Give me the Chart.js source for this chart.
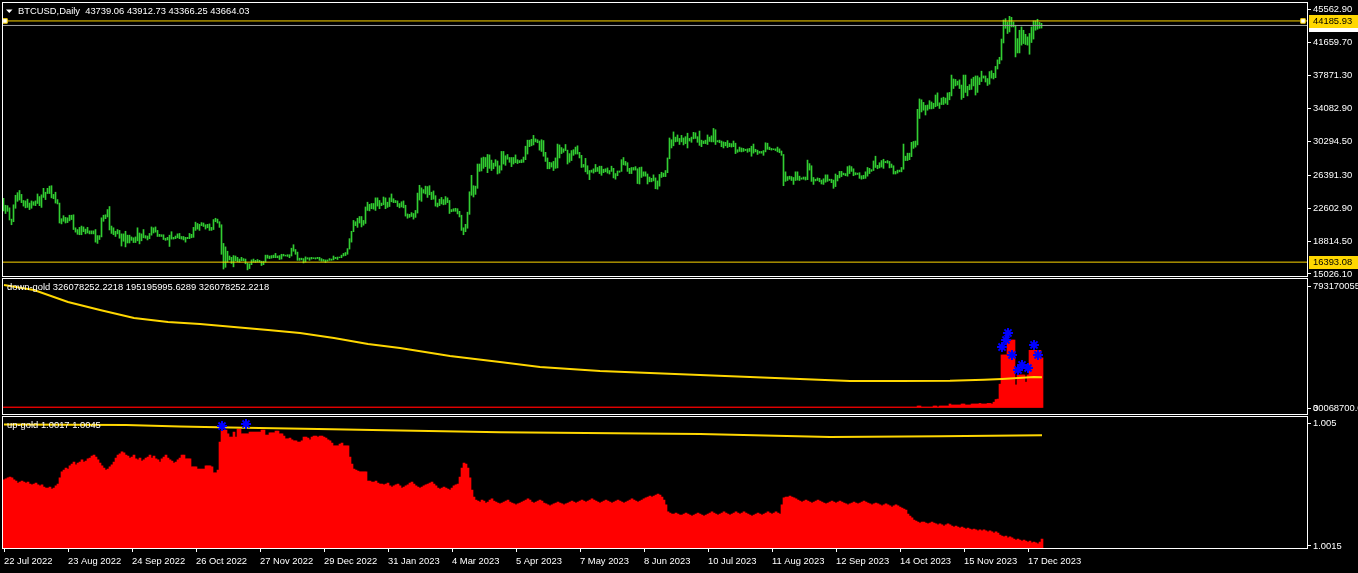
<!DOCTYPE html>
<html>
<head>
<meta charset="utf-8">
<script src="https://cdn.jsdelivr.net/npm/chart.js@4.4.1/dist/chart.umd.min.js"></script>
<style>
  html, body { margin: 0; padding: 0; background: #000; overflow: hidden; }
  canvas { position: absolute; left: 0; }
  #priceChart { top: 0; }
  #downChart { top: 277px; }
  #upChart { top: 415px; }
</style>
</head>
<body>
<canvas id="priceChart" width="1358" height="277"></canvas>
<canvas id="downChart" width="1358" height="138"></canvas>
<canvas id="upChart" width="1358" height="158"></canvas>
<script>
// ---- data (one bar per day, first bar = 22 Jul 2022, 1 Jan 2023 missing in the feed) ----
const symbolTitle = 'BTCUSD,Daily';
const lastOHLC = [43739.06, 43912.73, 43366.25, 43664.03];
const tickStep = 32; // bars between date labels
const dateTicks = ['22 Jul 2022', '23 Aug 2022', '24 Sep 2022', '26 Oct 2022', '27 Nov 2022', '29 Dec 2022',
  '31 Jan 2023', '4 Mar 2023', '5 Apr 2023', '7 May 2023', '8 Jun 2023', '10 Jul 2023', '11 Aug 2023',
  '12 Sep 2023', '14 Oct 2023', '15 Nov 2023', '17 Dec 2023'];
const priceTicks = [15026.10, 18814.50, 22602.90, 26391.30, 30294.50, 34082.90, 37871.30, 41659.70, 45562.90];
const goldLevels = [44185.93, 16393.08];
const bidPrice = 43664.03;

const highs = [
  // Jul 2022
  23750,22950,22900,22650,21350,23000,24100,24400,24650,24200,
  // Aug
  23500,23450,23650,23200,23450,23350,23450,24250,23950,24150,24900,24450,24900,25150,25200,24200,24450,23600,23200,21400,
  21750,21550,21500,21800,21800,21850,20350,20150,20400,20550,20450,
  // Sep
  20200,20400,20000,20000,20000,20150,19450,19450,21500,21800,21850,22450,22800,20550,20350,19950,20150,20050,19650,19650,
  19950,19500,19500,19300,19200,19300,20350,19750,19650,20150,
  // Oct
  19450,19400,19700,20450,20350,20450,20050,19600,19550,19550,19150,19250,19500,19900,19250,19400,19650,19700,19350,19350,
  19250,19250,19700,19600,20400,21000,20850,20750,20950,20900,20700,
  // Nov
  20750,20800,20400,21300,21450,21350,21050,20700,18550,18150,17650,17100,16950,17150,17100,16950,16750,16950,16800,16750,
  16300,16200,16650,16750,16600,16700,16600,16500,16500,17200,
  // Dec
  17200,17100,17150,17200,17400,17100,17150,17300,17300,17200,17250,17250,18000,18400,17850,17550,16850,16850,16800,17000,
  16900,16900,16950,16900,16900,16950,16950,16800,16700,16650,16650,
  // Jan 2023 (from the 2nd)
  16800,16750,17100,16950,16980,16980,17200,17400,17500,17950,19100,19950,21200,21050,21450,21650,21650,21200,22750,23300,
  23050,23150,23150,23800,23800,23500,23200,23900,23800,23300,
  // Feb
  23800,24250,23700,23500,23450,23150,23350,23450,22950,21950,21900,22100,22000,22350,24350,25250,24950,24750,25150,25100,
  25200,24450,24600,24050,23200,23650,23850,23600,
  // Mar
  23950,23800,23500,22450,22550,22600,22550,22250,21800,20350,20750,22150,24500,26400,25200,25150,27700,27700,28400,28500,
  28450,28800,28750,28150,27800,28200,28050,27500,29150,29150,28650,
  // Apr
  28800,28450,28450,28450,28750,28200,28100,28200,28500,29750,30450,30450,30550,31000,30600,30500,30350,30500,30400,29050,
  28400,27900,27850,28000,28400,30000,29900,29600,29450,29950,
  // May
  29300,28900,29250,29350,29650,29800,29050,28700,27650,28350,27500,26950,27000,27150,27650,27300,27450,27450,27100,27150,
  27250,26950,27450,27200,26600,26900,26900,28200,28450,28000,27850,
  // Jun
  27200,27300,27300,27400,27150,27300,27350,26800,26800,26550,26200,26050,26450,26100,25750,26500,26750,26650,26950,28400,
  30700,30500,31400,30800,31050,30650,31000,30700,30850,31250,
  // Jul
  30650,30800,31350,31300,30850,31500,30450,30350,30450,31050,30800,30950,31800,31650,30400,30450,30350,30250,30200,30400,
  30100,30050,30350,30100,29350,29650,29550,29500,29400,29450,29500,
  // Aug
  29750,30000,29400,29300,29150,29150,29250,30150,30100,29650,29500,29450,29450,29650,29450,29200,28800,26800,26250,26300,
  26250,26150,26800,26800,26300,26100,26200,26200,28150,27750,27500,
  // Sep
  26150,25950,26100,26050,25850,26000,26450,26450,25950,25950,25850,26550,26400,26850,26850,26650,26600,27400,27500,27400,
  27150,26700,26650,26700,26350,26400,26800,27300,27200,27050,
  // Oct
  28050,28600,27550,27850,28100,28250,28000,28100,28000,27700,27500,26850,27000,27000,27300,30000,28600,28950,28950,30200,
  30300,30350,34000,35200,35100,34800,34450,34500,35000,34850,34700,
  // Nov
  35650,35900,34750,35300,35400,35300,35900,35950,37950,37500,37450,37250,37400,36800,37950,37950,36650,36850,37500,37700,
  37850,37850,37650,38400,37850,37850,37550,38350,38450,38150,
  // Dec (1-24)
  38950,39700,40000,42100,44300,44450,44070,44720,44600,44070,43690,42150,43110,43500,43110,42650,42350,42740,43500,44190,
  44190,44380,44030,43913
];
const lows = [
  // Jul 2022
  22300,22000,22250,21250,20700,21050,22600,23400,23550,23250,
  // Aug
  22850,22650,22700,22450,22600,22950,22900,23150,22900,22700,23850,23600,24300,24300,23800,23700,23200,23100,20900,20800,
  21100,20900,20950,21150,21300,20150,19850,19600,19550,19550,19900,
  // Sep
  19650,19750,19650,19650,19650,18700,18550,19000,19300,21100,21400,21600,20100,19700,19550,19350,19650,19150,18250,18800,
  18150,18600,18600,18900,18650,18650,18850,18500,18850,19200,
  // Oct
  19150,18950,19100,19500,19750,19850,19350,19350,19350,19000,18900,18950,18200,19050,19050,19100,19200,19100,19050,18950,
  18700,19100,19100,19200,19250,20050,20200,20050,20600,20500,20200,
  // Nov
  20350,20050,20050,20150,21050,20900,20400,17300,15600,15800,16400,16650,16250,15850,16550,16450,16400,16550,16550,16200,
  15500,15650,16100,16400,16350,16400,16400,16000,16100,16400,
  // Dec
  16850,16800,16850,16900,16900,16900,16700,16750,17100,17100,17050,16900,17100,17650,17300,16600,16600,16650,16300,16400,
  16750,16600,16750,16800,16750,16800,16600,16500,16500,16350,16500,
  // Jan 2023 (from the 2nd)
  16600,16600,16650,16800,16700,16900,16900,17100,17150,17300,17900,18700,19900,20600,20400,20900,20450,20650,20850,22350,
  22300,22550,22500,22350,22850,22550,22900,23000,22550,22700,
  // Feb
  22800,23350,23250,23250,22800,22650,22750,22650,21700,21450,21550,21650,21350,21550,22050,23550,23400,24350,24250,23850,
  24150,23600,23650,22850,22750,22900,23100,23000,
  // Mar
  23050,23250,22000,22200,22250,22250,21950,21600,20050,19550,19900,20300,21900,24100,23900,24200,24900,26850,26900,27200,
  27400,26700,27200,26950,27150,27450,26550,26650,27000,27700,27550,
  // Apr
  28250,27900,27400,27700,27850,27750,27850,27850,27900,28200,28850,29700,29800,29900,30250,30150,29300,29150,28600,28000,
  27150,27150,27350,26950,27200,27250,28400,28900,29050,29250,
  // May
  27700,27900,28100,28700,28850,28850,28400,27300,27350,26800,26550,25900,26750,26650,26800,26850,26600,26400,26700,26800,
  26650,26550,26850,26100,25950,26350,26750,26850,27600,27550,26850,
  // Jun
  26600,26600,27000,27000,25450,25400,26150,26300,26300,25400,25650,25650,25750,24850,24800,25150,26150,26250,26250,26700,
  28300,29550,29800,30250,30300,29950,30250,29900,30050,29550,
  // Jul
  30350,30200,30600,30650,30200,29850,29700,30050,30050,29950,30300,30250,30250,29950,30250,30150,29700,29550,29800,29600,
  29700,29650,29700,28900,29050,29150,29100,29150,29250,29050,29150,
  // Aug
  28600,28950,29100,28800,28950,28950,28700,29100,29400,29350,29300,29350,29250,29100,29000,28700,25200,25700,25800,25950,
  25800,25350,25800,25850,25800,25950,25950,25850,25900,27000,25700,
  // Sep
  25350,25750,25800,25650,25400,25350,25600,25700,25800,25550,24900,25100,25750,26100,26250,26450,26350,26300,26600,26850,
  26350,26450,26500,26050,25950,26000,26050,26300,26600,26850,
  // Oct
  26950,27300,27150,27250,27350,27200,27850,27800,27250,27300,26550,26550,26650,26800,26800,27100,28100,28100,28200,28550,
  29500,29650,29900,32950,33700,33900,33350,33900,34050,34050,34100,
  // Nov
  34300,34400,34100,34550,34550,34700,34550,35100,35550,36400,36700,36800,36400,35150,35350,35950,35550,36250,36300,36700,
  35650,35950,36850,37200,37600,37150,36750,36900,37600,37500,
  // Dec (1-24)
  37650,38650,39250,39680,41650,43340,42740,42920,43500,43500,40040,40500,40500,41400,41580,41470,41400,40350,41700,42100,
  43120,43230,43340,43366
];

// down-gold: histogram in millions, one value per bar
const downName = 'down-gold';
const downLegend = [326078252.2218, 195195995.6289, 326078252.2218];
const downHistM = [
  6.5,6.5,6.5,6.5,6.5,6.5,6.5,6.5,6.5,6.5,6.5,6.5,6.5,6.5,6.5,6.5,6.5,6.5,6.5,6.5,6.5,6.5,6.5,6.5,6.5,
  6.5,6.5,6.5,6.5,6.5,6.5,6.5,6.5,6.5,6.5,6.5,6.5,6.5,6.5,6.5,6.5,6.5,6.5,6.5,6.5,6.5,6.5,6.5,6.5,6.5,
  6.5,6.5,6.5,6.5,6.5,6.5,6.5,6.5,6.5,6.5,6.5,6.5,6.5,6.5,6.5,6.5,6.5,6.5,6.5,6.5,6.5,6.5,6.5,6.5,6.5,
  6.5,6.5,6.5,6.5,6.5,6.5,6.5,6.5,6.5,6.5,6.5,6.5,6.5,6.5,6.5,6.5,6.5,6.5,6.5,6.5,6.5,6.5,6.5,6.5,6.5,
  6.5,6.5,6.5,6.5,6.5,6.5,6.5,6.5,6.5,6.5,6.5,6.5,6.5,6.5,6.5,6.5,6.5,6.5,6.5,6.5,6.5,6.5,6.5,6.5,6.5,
  6.5,6.5,6.5,6.5,6.5,6.5,6.5,6.5,6.5,6.5,6.5,6.5,6.5,6.5,6.5,6.5,6.5,6.5,6.5,6.5,6.5,6.5,6.5,6.5,6.5,
  6.5,6.5,6.5,6.5,6.5,6.5,6.5,6.5,6.5,6.5,6.5,6.5,6.5,6.5,6.5,6.5,6.5,6.5,6.5,6.5,6.5,6.5,6.5,6.5,6.5,
  6.5,6.5,6.5,6.5,6.5,6.5,6.5,6.5,6.5,6.5,6.5,6.5,6.5,6.5,6.5,6.5,6.5,6.5,6.5,6.5,6.5,6.5,6.5,6.5,6.5,
  6.5,6.5,6.5,6.5,6.5,6.5,6.5,6.5,6.5,6.5,6.5,6.5,6.5,6.5,6.5,6.5,6.5,6.5,6.5,6.5,6.5,6.5,6.5,6.5,6.5,
  6.5,6.5,6.5,6.5,6.5,6.5,6.5,6.5,6.5,6.5,6.5,6.5,6.5,6.5,6.5,6.5,6.5,6.5,6.5,6.5,6.5,6.5,6.5,6.5,6.5,
  6.5,6.5,6.5,6.5,6.5,6.5,6.5,6.5,6.5,6.5,6.5,6.5,6.5,6.5,6.5,6.5,6.5,6.5,6.5,6.5,6.5,6.5,6.5,6.5,6.5,
  6.5,6.5,6.5,6.5,6.5,6.5,6.5,6.5,6.5,6.5,6.5,6.5,6.5,6.5,6.5,6.5,6.5,6.5,6.5,6.5,6.5,6.5,6.5,6.5,6.5,
  6.5,6.5,6.5,6.5,6.5,6.5,6.5,6.5,6.5,6.5,6.5,6.5,6.5,6.5,6.5,6.5,6.5,6.5,6.5,6.5,6.5,6.5,6.5,6.5,6.5,
  6.5,6.5,6.5,6.5,6.5,6.5,6.5,6.5,6.5,6.5,6.5,6.5,6.5,6.5,6.5,6.5,6.5,6.5,6.5,6.5,6.5,6.5,6.5,6.5,6.5,
  6.5,6.5,6.5,6.5,6.5,6.5,6.5,6.5,6.5,6.5,6.5,6.5,6.5,6.5,6.5,6.5,6.5,6.5,6.5,6.5,6.5,6.5,6.5,6.5,6.5,
  6.5,6.5,6.5,6.5,6.5,6.5,6.5,6.5,6.5,6.5,6.5,6.5,6.5,6.5,6.5,6.5,6.5,6.5,6.5,6.5,6.5,6.5,6.5,6.5,6.5,
  6.5,6.5,6.5,6.5,6.5,6.5,6.5,6.5,6.5,6.5,6.5,6.5,6.5,6.5,6.5,6.5,6.5,6.5,6.5,6.5,6.5,6.5,6.5,6.5,6.5,
  6.5,6.5,6.5,6.5,6.5,6.5,6.5,6.5,6.5,6.5,6.5,6.5,6.5,6.5,6.5,6.5,6.5,6.5,6.5,6.5,6.5,6.5,6.5,6.5,6.5,
  6.5,6.5,6.5,6.5,6.5,6.5,6.5,13,13,6.5,
  6.5,6.5,6.5,6.5,6.5,13,13,6.5,13,13,
  13,13,13,26,19.5,19.5,19.5,19.5,19.5,26,
  26,19.5,19.5,19.5,26,26,26,26,30,26,
  26,26,30,30,26,38,55,58,155,345,
  345,345,442,442,442,442,150,215,215,215,
  215,168,215,375,375,375,375,375,375,326.08
];
const downLineIdx = [0, 15, 32, 48, 65, 82, 98, 115, 132, 148, 165, 182, 198, 223, 248, 268, 298, 323, 348, 373, 398, 423, 448, 473, 490, 499, 507, 515, 519];
const downLineM = [800, 767, 689, 637, 585, 559, 546, 527, 507, 488, 455, 416, 390, 338, 299, 267, 241, 228, 215, 202, 189, 176, 176, 177, 184, 189, 195, 202, 200];
const downArrowIdx = [499, 501, 502, 504, 507, 509, 512, 515, 517];
const downArrowM = [396, 442, 488, 345, 247, 280, 260, 410, 345];
const downTicks = [0, 0, 793170055];
const downTickLabels = ['30068700.0', '0', '793170055.0'];

// up-gold
const upName = 'up-gold';
const upLegend = [1.0017, 1.0045];
const upHist = [
  1.00338,1.00341,1.00344,1.00346,1.00344,1.00338,1.00335,1.00329,1.00332,1.00335,
  1.00332,1.00329,1.00332,1.00326,1.00324,1.00326,1.00329,1.00324,1.00321,1.00324,
  1.00318,1.00315,1.00315,1.00318,1.00312,1.00315,1.00321,1.00326,1.00344,1.00361,
  1.00366,1.00372,1.00369,1.00378,1.00383,1.00389,1.00381,1.00386,1.00389,1.00395,
  1.00389,1.00392,1.00398,1.00400,1.00406,1.00409,1.00403,1.00395,1.00386,1.00378,
  1.00372,1.00366,1.00369,1.00375,1.00381,1.00389,1.00400,1.00409,1.00412,1.00418,
  1.00415,1.00409,1.00406,1.00400,1.00403,1.00409,1.00398,1.00395,1.00400,1.00392,
  1.00395,1.00400,1.00403,1.00409,1.00400,1.00406,1.00398,1.00395,1.00389,1.00398,
  1.00403,1.00409,1.00400,1.00395,1.00392,1.00386,1.00389,1.00395,1.00400,1.00409,
  1.00409,1.00398,1.00398,1.00398,1.00375,1.00375,1.00375,1.00369,1.00369,1.00369,
  1.00369,1.00378,1.00378,1.00378,1.00375,1.00358,1.00358,1.00366,1.00446,1.00480,
  1.00480,1.00480,1.00469,1.00460,1.00460,1.00474,1.00460,1.00483,1.00483,1.00469,
  1.00469,1.00469,1.00469,1.00474,1.00474,1.00474,1.00474,1.00474,1.00474,1.00480,
  1.00480,1.00466,1.00466,1.00472,1.00472,1.00472,1.00477,1.00477,1.00469,1.00469,
  1.00463,1.00455,1.00455,1.00457,1.00452,1.00449,1.00449,1.00446,1.00446,1.00449,
  1.00460,1.00460,1.00457,1.00452,1.00460,1.00463,1.00463,1.00460,1.00463,1.00463,
  1.00460,1.00457,1.00452,1.00449,1.00443,1.00435,1.00435,1.00435,1.00440,1.00443,
  1.00435,1.00435,1.00435,1.00403,1.00383,1.00369,1.00366,1.00363,1.00361,1.00361,
  1.00361,1.00361,1.00335,1.00335,1.00332,1.00332,1.00335,1.00329,1.00326,1.00326,
  1.00324,1.00326,1.00329,1.00321,1.00318,1.00321,1.00324,1.00326,1.00321,1.00315,
  1.00318,1.00321,1.00324,1.00329,1.00332,1.00326,1.00321,1.00318,1.00315,1.00318,
  1.00321,1.00324,1.00326,1.00329,1.00332,1.00326,1.00321,1.00315,1.00312,1.00315,
  1.00318,1.00315,1.00312,1.00309,1.00315,1.00321,1.00324,1.00326,1.00346,1.00372,
  1.00386,1.00383,1.00372,1.00344,1.00309,1.00289,1.00281,1.00278,1.00275,1.00281,
  1.00278,1.00272,1.00275,1.00281,1.00284,1.00278,1.00275,1.00272,1.00270,1.00272,
  1.00275,1.00278,1.00281,1.00275,1.00272,1.00270,1.00267,1.00270,1.00272,1.00275,
  1.00278,1.00281,1.00284,1.00281,1.00275,1.00272,1.00275,1.00278,1.00281,1.00278,
  1.00272,1.00270,1.00267,1.00264,1.00267,1.00270,1.00272,1.00275,1.00272,1.00270,
  1.00267,1.00270,1.00272,1.00275,1.00278,1.00275,1.00272,1.00275,1.00278,1.00281,
  1.00278,1.00275,1.00278,1.00281,1.00284,1.00281,1.00278,1.00275,1.00272,1.00275,
  1.00278,1.00281,1.00278,1.00275,1.00272,1.00275,1.00278,1.00281,1.00278,1.00275,
  1.00272,1.00275,1.00278,1.00281,1.00284,1.00281,1.00278,1.00275,1.00278,1.00281,
  1.00284,1.00287,1.00289,1.00292,1.00289,1.00292,1.00295,1.00298,1.00295,1.00289,
  1.00281,1.00267,1.00247,1.00244,1.00241,1.00241,1.00244,1.00241,1.00238,1.00238,
  1.00241,1.00244,1.00241,1.00238,1.00235,1.00238,1.00241,1.00244,1.00241,1.00238,
  1.00235,1.00238,1.00241,1.00244,1.00247,1.00244,1.00241,1.00238,1.00241,1.00244,
  1.00247,1.00244,1.00241,1.00238,1.00241,1.00244,1.00247,1.00244,1.00241,1.00244,
  1.00247,1.00244,1.00241,1.00238,1.00235,1.00238,1.00241,1.00244,1.00241,1.00238,
  1.00241,1.00244,1.00247,1.00244,1.00241,1.00244,1.00247,1.00244,1.00241,1.00267,
  1.00287,1.00289,1.00289,1.00292,1.00289,1.00287,1.00284,1.00281,1.00278,1.00275,
  1.00278,1.00281,1.00278,1.00275,1.00272,1.00275,1.00278,1.00281,1.00278,1.00275,
  1.00272,1.00270,1.00272,1.00275,1.00278,1.00275,1.00272,1.00275,1.00278,1.00275,
  1.00272,1.00270,1.00267,1.00270,1.00272,1.00275,1.00272,1.00270,1.00272,1.00275,
  1.00278,1.00275,1.00272,1.00270,1.00267,1.00270,1.00272,1.00270,1.00267,1.00264,
  1.00267,1.00270,1.00267,1.00264,1.00261,1.00264,1.00267,1.00264,1.00261,1.00258,
  1.00255,1.00252,1.00241,1.00235,1.00230,1.00224,1.00221,1.00218,1.00215,1.00218,
  1.00218,1.00215,1.00213,1.00215,1.00218,1.00215,1.00213,1.00210,1.00213,1.00210,
  1.00207,1.00210,1.00213,1.00210,1.00207,1.00204,1.00207,1.00204,1.00201,1.00204,
  1.00201,1.00198,1.00201,1.00198,1.00196,1.00198,1.00196,1.00193,1.00196,1.00193,
  1.00196,1.00193,1.00190,1.00193,1.00190,1.00187,1.00190,1.00187,1.00181,1.00178,
  1.00176,1.00178,1.00173,1.00176,1.00173,1.00170,1.00167,1.00170,1.00167,1.00164,
  1.00167,1.00164,1.00161,1.00164,1.00159,1.00161,1.00159,1.00156,1.00161,1.00170
];
const upLineIdx = [0, 61, 88, 113, 157, 184, 248, 348, 413, 468, 519];
const upLineVal = [1.00496, 1.00494, 1.00490, 1.00487, 1.00483, 1.00480, 1.00474, 1.00469, 1.00460, 1.00462, 1.00465];
const upArrowIdx = [109, 121];
const upArrowVal = [1.004915, 1.00497];
const upTicks = [1.0015, 1.005];

// ---- look ----
const FONT = { family: '"Liberation Sans", Arial, sans-serif', size: 9.4 };
const CSS_FONT = '9.4px "Liberation Sans", Arial, sans-serif';
const GOLD = '#ffd700';
const BAR_GREEN = '#32cd32';
const ARROW_BLUE = '#0000ff';
const SPAN = 652; // bars across the chart area (2 px per bar)

const framePlugin = {
  id: 'frame',
  afterDraw(chart, args, opts) {
    const { ctx, chartArea: a } = chart;
    ctx.save();
    ctx.strokeStyle = '#fff';
    ctx.lineWidth = 1;
    ctx.strokeRect(a.left - 0.5, a.top - 0.5, a.right - a.left + 1, a.bottom - a.top + 1);
    ctx.font = CSS_FONT;
    ctx.textBaseline = 'middle';
    ctx.fillStyle = '#fff';
    const ty = a.top + 8;
    if (opts.triangle) {
      ctx.beginPath();
      ctx.moveTo(6, ty - 1.5); ctx.lineTo(12.5, ty - 1.5); ctx.lineTo(9.25, ty + 2);
      ctx.closePath(); ctx.fill();
    }
    if (opts.label) ctx.fillText(opts.label, opts.labelX, ty);
    ctx.restore();
  }
};

const tagPlugin = {
  id: 'tags',
  afterDraw(chart, args, opts) {
    const { ctx } = chart;
    const y = chart.scales.y;
    ctx.save();
    ctx.font = CSS_FONT;
    ctx.textBaseline = 'middle';
    (opts.items || []).forEach(t => {
      const py = Math.round(y.getPixelForValue(t.value));
      ctx.fillStyle = t.bg;
      ctx.fillRect(y.left + 2, py - 6, 49, 13);
      ctx.fillStyle = '#000';
      ctx.fillText(t.value.toFixed(2), y.left + 6, py + 0.5);
    });
    ctx.restore();
  }
};

function noPad(s) {
  s.paddingTop = 0; s.paddingBottom = 0; s.paddingLeft = 0; s.paddingRight = 0;
}

function xAxis(min, show) {
  return {
    type: 'linear', min: min, max: min + SPAN, display: show, offset: false,
    afterBuildTicks: s => { s.ticks = dateTicks.map((t, k) => ({ value: k * tickStep })); },
    afterFit: s => { s.height = show ? 25 : 0; noPad(s); },
    ticks: { color: '#fff', font: FONT, autoSkip: false, maxRotation: 0, align: 'start', padding: 4,
      callback: (v, k) => dateTicks[k] },
    grid: { drawOnChartArea: false, drawTicks: true, tickLength: 4, color: '#fff', offset: false },
    border: { display: false }
  };
}

function yAxis(min, max, ticks, labels) {
  return {
    type: 'linear', position: 'right', min: min, max: max, beginAtZero: false,
    afterBuildTicks: s => { s.ticks = ticks.map(v => ({ value: v })); },
    afterFit: s => { s.width = 51; noPad(s); },
    ticks: { color: '#fff', font: FONT, padding: 2, autoSkip: false, callback: (v, k) => labels[k] },
    grid: { drawOnChartArea: false, tickLength: 4, color: '#fff' },
    border: { display: false }
  };
}

const common = {
  responsive: false, animation: false, events: [], devicePixelRatio: 1
};

const arrowStyle = { pointStyle: 'star', pointRadius: 5, borderColor: ARROW_BLUE, borderWidth: 2, backgroundColor: ARROW_BLUE };

// ---- price panel ----
const pxMin = -0.25;
const priceBars = highs.map((h, i) => ({ x: i, y: [lows[i], h] }));
const flat = (v) => [{ x: pxMin, y: v }, { x: pxMin + SPAN, y: v }];

new Chart(document.getElementById('priceChart'), {
  type: 'bar',
  data: {
    datasets: [
      { type: 'scatter', data: [{ x: 0.75, y: goldLevels[0] }, { x: SPAN - 2.25, y: goldLevels[0] }],
        pointStyle: 'rect', pointRadius: 3.2, backgroundColor: '#fff', borderColor: GOLD, borderWidth: 1 },
      { type: 'line', data: flat(goldLevels[0]), borderColor: GOLD, borderWidth: 1, pointRadius: 0 },
      { type: 'line', data: flat(goldLevels[1]), borderColor: GOLD, borderWidth: 1, pointRadius: 0 },
      { type: 'line', data: flat(bidPrice), borderColor: '#a0a0a0', borderWidth: 1, pointRadius: 0 },
      { type: 'bar', data: priceBars, backgroundColor: BAR_GREEN, barThickness: 1, borderWidth: 0, grouped: false }
    ]
  },
  options: Object.assign({}, common, {
    layout: { autoPadding: false, padding: { left: 3, top: 3, right: 0, bottom: 1 } },
    scales: {
      x: xAxis(pxMin, false),
      y: yAxis(14795.6, 46254.3, priceTicks, priceTicks.map(v => v.toFixed(2)))
    },
    plugins: {
      legend: { display: false }, tooltip: { enabled: false },
      frame: { triangle: true, label: symbolTitle + '  ' + lastOHLC.map(v => v.toFixed(2)).join(' '), labelX: 18 },
      tags: { items: [
        { value: bidPrice, bg: '#ffffff' },
        { value: goldLevels[0], bg: GOLD },
        { value: goldLevels[1], bg: GOLD }
      ] }
    }
  }),
  plugins: [framePlugin, tagPlugin]
});

// ---- down-gold panel ----
const ixMin = -0.5;
new Chart(document.getElementById('downChart'), {
  type: 'bar',
  data: {
    datasets: [
      Object.assign({ type: 'scatter', data: downArrowIdx.map((x, k) => ({ x: x, y: downArrowM[k] * 1e6 })) }, arrowStyle),
      { type: 'line', data: downLineIdx.map((x, k) => ({ x: x, y: downLineM[k] * 1e6 })),
        borderColor: GOLD, borderWidth: 2, pointRadius: 0, tension: 0 },
      { type: 'bar', data: downHistM.map((v, i) => ({ x: i, y: v * 1e6 })),
        backgroundColor: '#ff0000', barThickness: 2, borderWidth: 0, grouped: false }
    ]
  },
  options: Object.assign({}, common, {
    layout: { autoPadding: false, padding: { left: 3, top: 2, right: 0, bottom: 1 } },
    scales: {
      x: xAxis(ixMin, false),
      y: yAxis(-39.0e6, 838.68e6, downTicks, downTickLabels)
    },
    plugins: {
      legend: { display: false }, tooltip: { enabled: false },
      frame: { label: downName + ' ' + downLegend.map(v => v.toFixed(4)).join(' '), labelX: 7 }
    }
  }),
  plugins: [framePlugin]
});

// ---- up-gold panel ----
new Chart(document.getElementById('upChart'), {
  type: 'bar',
  data: {
    datasets: [
      Object.assign({ type: 'scatter', data: upArrowIdx.map((x, k) => ({ x: x, y: upArrowVal[k] })) }, arrowStyle),
      { type: 'line', data: upLineIdx.map((x, k) => ({ x: x, y: upLineVal[k] })),
        borderColor: GOLD, borderWidth: 2, pointRadius: 0, tension: 0 },
      { type: 'bar', data: upHist.map((v, i) => ({ x: i, y: v })),
        backgroundColor: '#ff0000', barThickness: 2, borderWidth: 0, grouped: false }
    ]
  },
  options: Object.assign({}, common, {
    layout: { autoPadding: false, padding: { left: 3, top: 2, right: 0, bottom: 0 } },
    scales: {
      x: xAxis(ixMin, true),
      y: yAxis(1.001443, 1.005171, upTicks, upTicks.map(v => String(v)))
    },
    plugins: {
      legend: { display: false }, tooltip: { enabled: false },
      frame: { label: upName + ' ' + upLegend.map(v => v.toFixed(4)).join(' '), labelX: 7 }
    }
  }),
  plugins: [framePlugin]
});
</script>
</body>
</html>
